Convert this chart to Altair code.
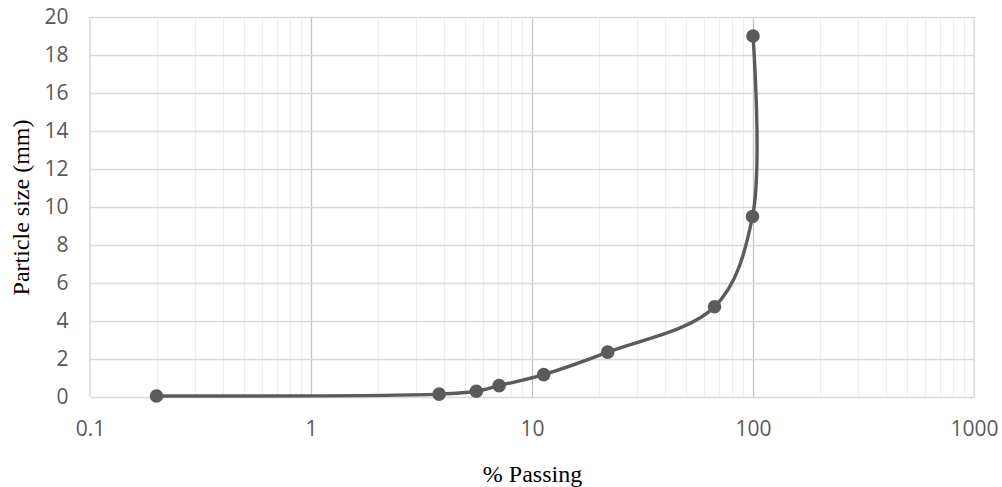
import altair as alt
import pandas as pd

# % passing (x, log scale) and particle size in mm (y)
passing = [0.2, 3.8, 5.6, 7.1, 11.3, 22, 67, 99.5, 100]
size_mm = [0.05, 0.15, 0.3, 0.6, 1.18, 2.36, 4.75, 9.5, 19]

# x axis tick / grid values (decades labelled, minor lines unlabelled)
x_ticks = [0.1, 0.2, 0.3, 0.4, 0.5, 0.6, 0.7, 0.8, 0.9,
           1, 2, 3, 4, 5, 6, 7, 8, 9,
           10, 20, 30, 40, 50, 60, 70, 80, 90,
           100, 200, 300, 400, 500, 600, 700, 800, 900, 1000]
y_ticks = [0, 2, 4, 6, 8, 10, 12, 14, 16, 18, 20]
edge_vals = [0.1, 1000]

df = pd.DataFrame({"passing": passing, "size_mm": size_mm})

x_scale = alt.Scale(type="log", domain=[0.1, 1000], nice=False)
y_scale = alt.Scale(domain=[0, 20], nice=False)

x_axis = alt.Axis(
    title="% Passing",
    values=x_ticks,
    format="~g",
    labelExpr="(datum.value == 0.1 || datum.value == 1 || datum.value == 10 || datum.value == 100 || datum.value == 1000) ? datum.label : ''",
    labelFont="Open Sans",
    labelFontSize=21,
    labelColor="#595959",
    labelPadding=21,
    labelFlush=False,
    labelOverlap=False,
    ticks=False,
    domain=False,
    grid=True,
    gridColor={
        "condition": {
            "test": "datum.value == 1 || datum.value == 10 || datum.value == 100",
            "value": "#c4c4c4",
        },
        "value": "#eeeeee",
    },
    gridWidth=1.3,
    titleFont="Liberation Serif",
    titleFontSize=24,
    titleFontWeight="normal",
    titleColor="#000000",
    titleBaseline="alphabetic",
    titleY=84,
)

y_axis = alt.Axis(
    title="Particle size (mm)",
    values=y_ticks,
    tickCount=11,
    labelFont="Open Sans",
    labelFontSize=21,
    labelColor="#595959",
    labelPadding=22,
    labelFlush=False,
    labelOverlap=False,
    ticks=False,
    domain=False,
    grid=True,
    gridColor="#d9d9d9",
    gridWidth=1.3,
    titleFont="Liberation Serif",
    titleFontSize=24,
    titleFontWeight="normal",
    titleColor="#000000",
    titleBaseline="alphabetic",
    titleX=-62,
)

x_enc = alt.X("passing:Q", scale=x_scale, axis=x_axis)
y_enc = alt.Y("size_mm:Q", scale=y_scale, axis=y_axis)

edges = alt.Chart(pd.DataFrame({"passing": edge_vals})).mark_rule(
    color="#d9d9d9", strokeWidth=1.3
).encode(
    x=alt.X("passing:Q", scale=x_scale, axis=x_axis),
)

line = alt.Chart(df).mark_line(
    color="#5b5b5b", strokeWidth=3.4, interpolate="catmull-rom"
).encode(x=x_enc, y=y_enc)

pts = alt.Chart(df).mark_circle(
    color="#5b5b5b", size=185, opacity=1
).encode(x=x_enc, y=y_enc)

chart = alt.layer(edges, line, pts).properties(
    width=884,
    height=380,
    autosize=alt.AutoSizeParams(type="none"),
    padding={"left": 90, "top": 17, "right": 28, "bottom": 90},
).configure_view(stroke=None)

chart.save("out.html", embed_options={"renderer": "svg", "actions": False})
